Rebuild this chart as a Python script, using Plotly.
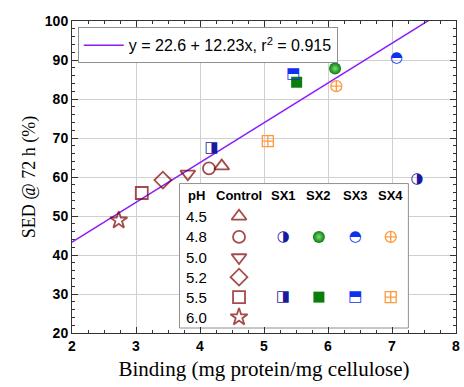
import plotly.graph_objects as go

# ---------------- data ----------------
ph_labels = ["4.5", "4.8", "5.0", "5.2", "5.5", "6.0"]
control_x = [4.34, 4.14, 3.81, 3.42, 3.09, 2.73]
control_y = [62.8, 62.2, 60.8, 59.2, 55.9, 48.9]

# SX series: [pH 4.8 (circle), pH 5.5 (square)]
sx1_x = [7.39, 4.18]
sx1_y = [59.4, 67.5]
sx2_x = [6.11, 5.51]
sx2_y = [87.8, 84.3]
sx3_x = [7.07, 5.46]
sx3_y = [90.4, 86.3]
sx4_x = [6.13, 5.06]
sx4_y = [83.3, 69.2]

line_intercept = 22.9
line_slope = 10.2
line_x = [2, 8]
fit_label = "y = 22.6 + 12.23x, r<sup>2</sup> = 0.915"

x_ticks = [2, 3, 4, 5, 6, 7, 8]
y_ticks = [20, 30, 40, 50, 60, 70, 80, 90, 100]

# ---------------- styles ----------------
C_CTRL = "#7a0000"
C_SX1 = "#1a1a9c"
C_SX2 = "#0a7d0a"
C_SX3 = "#1030f0"
C_SX4 = "#ff9a3c"
C_LINE = "#8a1cff"

ctrl_symbols = ["triangle-up-open", "circle-open", "triangle-down-open",
                "diamond-open", "square-open", "star-open"]
ctrl_sizes = [13, 12, 13, 13, 12, 13]

fig = go.Figure()

# regression line
fig.add_trace(go.Scatter(
    x=line_x, y=[line_intercept + line_slope * v for v in line_x],
    mode="lines", line=dict(color=C_LINE, width=1.5),
    name=fit_label, showlegend=True, hoverinfo="skip"))

# control
fig.add_trace(go.Scatter(
    x=control_x, y=control_y, mode="markers", showlegend=False,
    marker=dict(symbol=ctrl_symbols, size=ctrl_sizes, color=C_CTRL,
                line=dict(color=C_CTRL, width=1.8))))

GLYPH_FONT = "DejaVu Sans"

def glyph_trace(xs, ys, glyphs, color, size, xa="x", ya="y"):
    return go.Scatter(x=xs, y=ys, mode="text", text=glyphs,
                      textposition="middle center", showlegend=False,
                      textfont=dict(family=GLYPH_FONT, size=size, color=color),
                      xaxis=xa, yaxis=ya, hoverinfo="skip")

def sphere_trace(xs, ys, xa="x", ya="y"):
    return go.Scatter(x=xs, y=ys, mode="markers", showlegend=False,
                      marker=dict(symbol="circle", size=12, color=C_SX2,
                                  gradient=dict(type="radial", color="#7fdc7f"),
                                  line=dict(width=0)),
                      xaxis=xa, yaxis=ya, hoverinfo="skip")

def square_trace(xs, ys, xa="x", ya="y"):
    return go.Scatter(x=xs, y=ys, mode="markers", showlegend=False,
                      marker=dict(symbol="square", size=11, color=C_SX2, line=dict(width=0)),
                      xaxis=xa, yaxis=ya, hoverinfo="skip")

def sx4_trace(xs, ys, xa="x", ya="y"):
    return go.Scatter(x=xs, y=ys, mode="markers", showlegend=False,
                      marker=dict(symbol=["circle-cross-open", "square-cross-open"],
                                  size=11, color=C_SX4, line=dict(color=C_SX4, width=1.3)),
                      xaxis=xa, yaxis=ya, hoverinfo="skip")

fig.add_trace(glyph_trace(sx1_x, sx1_y, ["◑", "◨"], C_SX1, 15))
fig.add_trace(sphere_trace(sx2_x[:1], sx2_y[:1]))
fig.add_trace(square_trace(sx2_x[1:], sx2_y[1:]))
fig.add_trace(glyph_trace(sx3_x, sx3_y, ["◓", "⬒"], C_SX3, 15))
fig.add_trace(sx4_trace(sx4_x, sx4_y))

# ---------------- table legend (overlay axes, 0..1 fractions of the plot area) ----------------
col_pos = {"pH": 0.325, "Control": 0.435, "SX1": 0.55, "SX2": 0.643, "SX3": 0.738, "SX4": 0.83}
row_pos = [0.374, 0.308, 0.242, 0.179, 0.115, 0.051]
header_row = 0.441
box_x = [0.280, 0.876]
box_y = [0.016, 0.479]

# white frame of the table (drawn on overlay so it hides the grid)
fig.add_trace(go.Scatter(
    x=[box_x[0], box_x[1], box_x[1], box_x[0], box_x[0]],
    y=[box_y[0], box_y[0], box_y[1], box_y[1], box_y[0]],
    mode="lines", fill="toself", fillcolor="white",
    line=dict(color="#909090", width=1), showlegend=False,
    xaxis="x2", yaxis="y2", hoverinfo="skip"))

fig.add_trace(go.Scatter(
    x=[col_pos["Control"]] * 6, y=row_pos, mode="markers", showlegend=False,
    marker=dict(symbol=ctrl_symbols, size=ctrl_sizes, color=C_CTRL,
                line=dict(color=C_CTRL, width=1.8)),
    xaxis="x2", yaxis="y2", hoverinfo="skip"))
fig.add_trace(glyph_trace([col_pos["SX1"]] * 2, [row_pos[1], row_pos[4]],
                          ["◑", "◨"], C_SX1, 15, "x2", "y2"))
fig.add_trace(sphere_trace([col_pos["SX2"]], [row_pos[1]], "x2", "y2"))
fig.add_trace(square_trace([col_pos["SX2"]], [row_pos[4]], "x2", "y2"))
fig.add_trace(glyph_trace([col_pos["SX3"]] * 2, [row_pos[1], row_pos[4]],
                          ["◓", "⬒"], C_SX3, 15, "x2", "y2"))
fig.add_trace(sx4_trace([col_pos["SX4"]] * 2, [row_pos[1], row_pos[4]], "x2", "y2"))

annotations = []
for name, cx in col_pos.items():
    annotations.append(dict(x=cx, y=header_row, xref="x2", yref="y2", text="<b>%s</b>" % name,
                            showarrow=False, font=dict(family="Liberation Sans", size=13, color="black")))
for lab, ry in zip(ph_labels, row_pos):
    annotations.append(dict(x=col_pos["pH"], y=ry, xref="x2", yref="y2", text=lab,
                            showarrow=False, font=dict(family="Liberation Sans", size=15, color="black")))

axis_common = dict(
    showline=True, linecolor="#333", linewidth=1, mirror="allticks",
    ticks="inside", ticklen=6, tickcolor="#333", tickwidth=1,
    showgrid=True, gridcolor="#d0d0d0", gridwidth=1, zeroline=False,
    ticklabeloverflow="allow",
    tickfont=dict(family="Liberation Sans", size=14, color="black", weight="bold"),
)

fig.update_layout(
    width=464, height=387,
    margin=dict(l=72, r=4, t=21, b=54),
    paper_bgcolor="white", plot_bgcolor="white",
    xaxis=dict(range=[2, 8], tickvals=x_ticks,
               minor=dict(dtick=0.25, ticks="inside", ticklen=3, tickcolor="#333", showgrid=False),
               title=dict(text="Binding (mg protein/mg cellulose)", standoff=8,
                          font=dict(family="Liberation Serif", size=21, color="black")),
               **axis_common),
    yaxis=dict(range=[20, 100], tickvals=y_ticks,
               minor=dict(dtick=2, ticks="inside", ticklen=3, tickcolor="#333", showgrid=False),
               title=dict(text="SED @ 72 h (%)", standoff=4,
                          font=dict(family="Liberation Serif", size=18, color="black")),
               **axis_common),
    xaxis2=dict(range=[0, 1], overlaying="x", visible=False, domain=[0, 1]),
    yaxis2=dict(range=[0, 1], overlaying="y", visible=False, domain=[0, 1]),
    legend=dict(x=0.015, y=0.98, xanchor="left", yanchor="top",
                bgcolor="white", bordercolor="#909090", borderwidth=1,
                font=dict(family="Liberation Sans", size=16, color="black"),
                itemwidth=40, tracegroupgap=0),
    annotations=annotations, showlegend=True,
)

fig.write_html("out.html")
